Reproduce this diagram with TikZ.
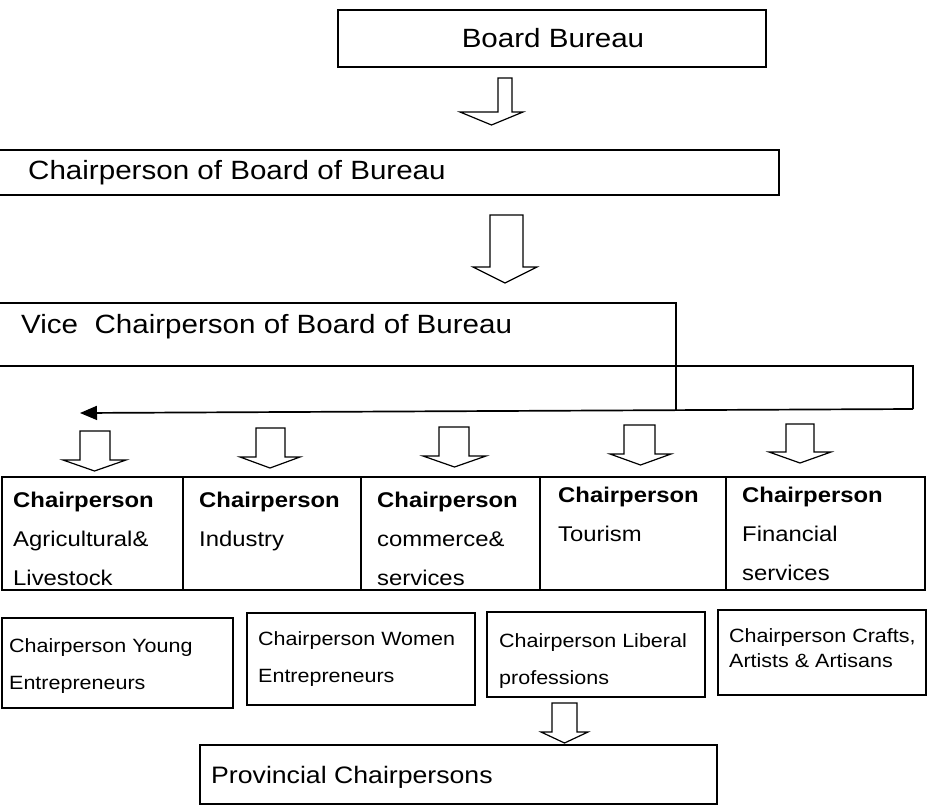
\documentclass[tikz,border=0pt]{standalone}
\usepackage{fontspec}
\usetikzlibrary{arrows.meta}
\newfontfamily\diag{Liberation Sans}[FakeStretch=1.12]
\newcommand\barrow[7]{%
  \draw[hollow] (#1,#5) -- (#2,#5) -- (#2,#6) -- (#4,#6) -- ({(#3+#4)/2},#7) -- (#3,#6) -- (#1,#6) -- cycle;}
\tikzset{
  box/.style={draw=black, line width=1.7pt},
  hollow/.style={draw=black, line width=1.2pt, fill=white, line join=miter},
  bigtxt/.style={inner sep=0pt, font={\diag\fontsize{26.4}{30}\selectfont}},
  rowtxt/.style={inner sep=0pt, anchor=north west, align=left, font={\diag\fontsize{21.3}{39}\selectfont}},
  subtxt/.style={inner sep=0pt, anchor=north west, align=left, font={\diag\fontsize{19.2}{37.5}\selectfont}},
}
\begin{document}
\begin{tikzpicture}[x=1pt,y=-1pt]
\useasboundingbox[fill=white] (0,0) rectangle (931,811);

% Board Bureau
\draw[box] (338,10) rectangle (766,67);
\node[bigtxt] (board) at (553,38) {Board Bureau};
\barrow{498}{512}{460}{523}{78}{112}{125}

% Chairperson of Board of Bureau
\draw[box] (-5,150) rectangle (779,195);
\node[bigtxt, anchor=west] (chair) at (28,173) {Chairperson of Board of Bureau};
\barrow{490}{523}{473}{537}{215}{267}{283}

% Vice chairperson
\draw[box] (-5,303) -- (676,303) -- (676,410);
\draw[box] (-5,366) -- (913,366) -- (913,409);
\node[bigtxt, anchor=west] (vice) at (21,327) {Vice\ \ Chairperson of Board of Bureau};
\coordinate (arrstart) at (913,409);
\coordinate (arrend) at (80,413);
\draw[line width=1.7pt, -{Triangle[length=17pt,width=14pt]}] (arrstart) -- (arrend);

% five small arrows
\barrow{80}{110}{63}{126}{431}{460}{471}
\barrow{256}{285}{240}{300}{428}{457}{468}
\barrow{439}{469}{423}{486}{427}{456}{467}
\barrow{624}{655}{610}{671}{425}{454}{465}
\barrow{786}{814}{769}{831}{424}{452}{463}

% chairperson row
\draw[box] (2,477) rectangle (925,590);
\draw[box] (183,477) -- (183,590);
\draw[box] (361,477) -- (361,590);
\draw[box] (540,477) -- (540,590);
\draw[box] (726,477) -- (726,590);
\node[rowtxt] (agri) at (13,492) {\textbf{Chairperson}\\Agricultural\&\\Livestock};
\node[rowtxt] (ind) at (199,492) {\textbf{Chairperson}\\Industry};
\node[rowtxt] (comm) at (377,492) {\textbf{Chairperson}\\commerce\&\\services};
\node[rowtxt] (tour) at (558,487) {\textbf{Chairperson}\\Tourism};
\node[rowtxt] (fin) at (742,487) {\textbf{Chairperson}\\Financial\\services};

% lower row
\draw[box] (2,618) rectangle (233,708);
\draw[box] (247,613) rectangle (475,705);
\draw[box] (487,612) rectangle (705,697);
\draw[box] (718,610) rectangle (926,695);
\node[subtxt] (young) at (9,638) {Chairperson Young\\Entrepreneurs};
\node[subtxt] (women) at (258,631) {Chairperson Women\\Entrepreneurs};
\node[subtxt] (liberal) at (499,633) {Chairperson Liberal\\professions};
\node[subtxt, font={\diag\fontsize{19.2}{25}\selectfont}] (crafts) at (729,628) {Chairperson Crafts,\\Artists \& Artisans};
\barrow{552}{577}{541}{588}{703}{732}{743}

% Provincial
\draw[box] (200,745) rectangle (717,804);
\node[bigtxt, anchor=west, font={\diag\fontsize{23.8}{28}\selectfont}] (prov) at (211,777) {Provincial Chairpersons};
\end{tikzpicture}
\end{document}
